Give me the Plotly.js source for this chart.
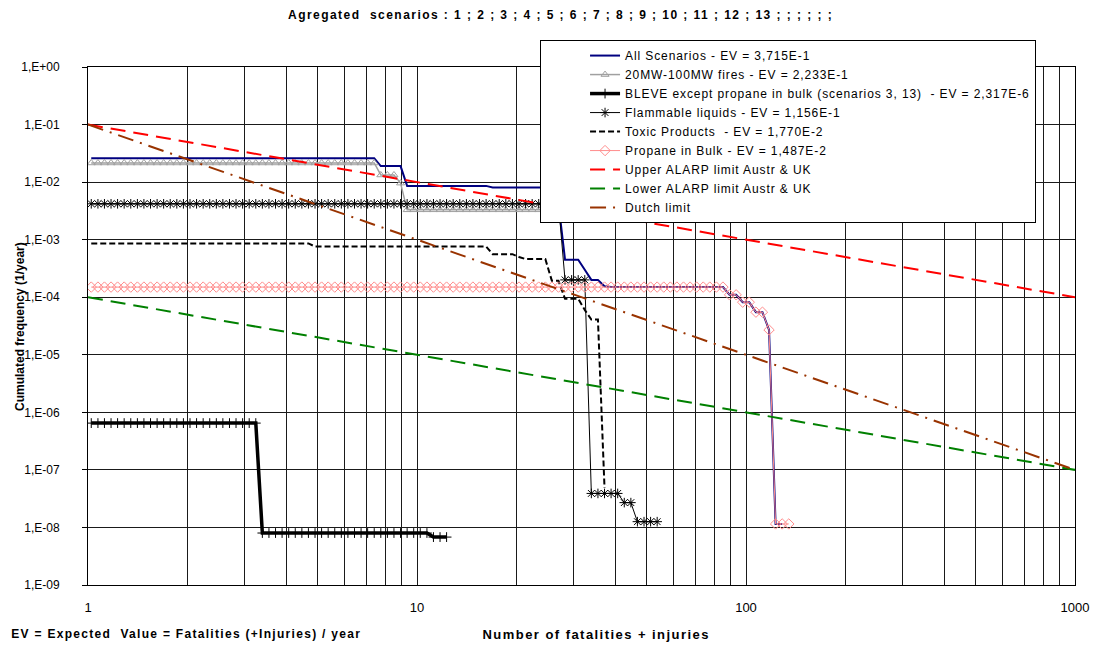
<!DOCTYPE html>
<html>
<head>
<meta charset="utf-8">
<script src="https://cdn.plot.ly/plotly-3.0.1.min.js"></script>
<style>
html,body{margin:0;padding:0;background:#fff}
#chart{width:1097px;height:650px}
.gtitle{letter-spacing:1.45px}
.legendtext{letter-spacing:0.9px}
g.annotation[data-index="1"] .annotation-text{letter-spacing:1.45px}
g.annotation[data-index="2"] .annotation-text{letter-spacing:1.3px}
</style>
</head>
<body>
<div id="chart"></div>
<script>
const xGrid = [1.023,1.072,1.122,1.175,1.230,1.288,1.349,1.413,1.479,1.549,
  1.622,1.698,1.778,1.862,1.950,2.042,2.138,2.239,2.344,2.455,
  2.570,2.692,2.818,2.951,3.090,3.236,3.388,3.548,3.715,3.890,
  4.074,4.266,4.467,4.677,4.898,5.129,5.370,5.623,5.888,6.166,
  6.457,6.761,7.079,7.413,7.762,8.128,8.511,8.913,9.333,9.772,
  10.23,10.72,11.22,11.75,12.30,12.88,13.49,14.13,14.79,15.49,
  16.22,16.98,17.78,18.62,19.50,20.42,21.38,22.39,23.44,24.55,
  25.70,26.92,28.18,29.51,30.90,32.36,33.88,35.48,37.15,38.90,
  40.74,42.66,44.67,46.77,48.98,51.29,53.70,56.23,58.88,61.66,
  64.57,67.61,70.79,74.13,77.62,81.28,85.11,89.13,93.33,97.72,
  102.3,107.2,112.2,117.5,123.0,128.8,134.9];

// Cumulated frequency (1/year) for each series, aligned with xGrid
const allScenarios = [0.026,0.026,0.026,0.026,0.026,0.026,0.026,0.026,0.026,0.026,
  0.026,0.026,0.026,0.026,0.026,0.026,0.026,0.026,0.026,0.026,
  0.026,0.026,0.026,0.026,0.026,0.026,0.026,0.026,0.026,0.026,
  0.026,0.026,0.026,0.026,0.026,0.026,0.026,0.026,0.026,0.026,
  0.026,0.026,0.026,0.026,0.019,0.019,0.019,0.019,0.0086,0.0086,
  0.0086,0.0086,0.0086,0.0086,0.0086,0.0086,0.0086,0.0086,0.0086,0.0086,
  0.0086,0.0081,0.0081,0.0081,0.0081,0.0081,0.0081,0.0081,0.0081,0.0081,
  0.0049,0.0042,4.5e-4,4.5e-4,4.5e-4,3.0e-4,2.0e-4,2.0e-4,1.55e-4,1.5e-4,
  1.5e-4,1.5e-4,1.5e-4,1.5e-4,1.5e-4,1.5e-4,1.5e-4,1.5e-4,1.5e-4,1.5e-4,
  1.5e-4,1.5e-4,1.5e-4,1.5e-4,1.5e-4,1.5e-4,1.5e-4,1.1e-4,1.1e-4,8.2e-5,
  8.2e-5,5.5e-5,5.5e-5,2.7e-5,1.15e-8,1.15e-8];

const fires20to100MW = [0.0215,0.0215,0.0215,0.0215,0.0215,0.0215,0.0215,0.0215,0.0215,0.0215,
  0.0215,0.0215,0.0215,0.0215,0.0215,0.0215,0.0215,0.0215,0.0215,0.0215,
  0.0215,0.0215,0.0215,0.0215,0.0215,0.0215,0.0215,0.0215,0.0215,0.0215,
  0.0215,0.0215,0.0215,0.0215,0.0215,0.0215,0.0215,0.0215,0.0215,0.0215,
  0.0215,0.0215,0.0215,0.0215,0.0133,0.0133,0.0133,0.0096,0.0033,0.0033,
  0.0033,0.0033,0.0033,0.0033,0.0033,0.0033,0.0033,0.0033,0.0033,0.0033,
  0.0033,0.0033,0.0033,0.0033,0.0033,0.0033,0.0033,0.0033,0.0033,0.0033];

const bleve = [6.5e-7,6.5e-7,6.5e-7,6.5e-7,6.5e-7,6.5e-7,6.5e-7,6.5e-7,6.5e-7,6.5e-7,
  6.5e-7,6.5e-7,6.5e-7,6.5e-7,6.5e-7,6.5e-7,6.5e-7,6.5e-7,6.5e-7,6.5e-7,
  6.5e-7,6.5e-7,6.5e-7,6.5e-7,6.5e-7,6.5e-7,8e-9,8e-9,8e-9,8e-9,
  8e-9,8e-9,8e-9,8e-9,8e-9,8e-9,8e-9,8e-9,8e-9,8e-9,
  8e-9,8e-9,8e-9,8e-9,8e-9,8e-9,8e-9,8e-9,8e-9,8e-9,
  8e-9,8e-9,6.8e-9,6.8e-9,6.8e-9];

const flammableLiquids = [4.2e-3,4.2e-3,4.2e-3,4.2e-3,4.2e-3,4.2e-3,4.2e-3,4.2e-3,4.2e-3,4.2e-3,
  4.2e-3,4.2e-3,4.2e-3,4.2e-3,4.2e-3,4.2e-3,4.2e-3,4.2e-3,4.2e-3,4.2e-3,
  4.2e-3,4.2e-3,4.2e-3,4.2e-3,4.2e-3,4.2e-3,4.2e-3,4.2e-3,4.2e-3,4.2e-3,
  4.2e-3,4.2e-3,4.2e-3,4.2e-3,4.2e-3,4.2e-3,4.2e-3,4.2e-3,4.2e-3,4.2e-3,
  4.2e-3,4.2e-3,4.2e-3,4.2e-3,4.2e-3,4.2e-3,4.2e-3,4.2e-3,4.2e-3,4.2e-3,
  4.2e-3,4.2e-3,4.2e-3,4.2e-3,4.2e-3,4.2e-3,4.2e-3,4.2e-3,4.2e-3,4.2e-3,
  4.2e-3,4.2e-3,4.2e-3,4.2e-3,4.2e-3,4.2e-3,4.2e-3,4.2e-3,4.2e-3,4.2e-3,
  4.2e-3,4.2e-3,2e-4,2e-4,2e-4,2e-4,3.9e-8,3.9e-8,3.9e-8,3.9e-8,
  3.9e-8,2.7e-8,2.7e-8,1.26e-8,1.26e-8,1.26e-8,1.26e-8];

const toxicProducts = [8.6e-4,8.6e-4,8.6e-4,8.6e-4,8.6e-4,8.6e-4,8.6e-4,8.6e-4,8.6e-4,8.6e-4,
  8.6e-4,8.6e-4,8.6e-4,8.6e-4,8.6e-4,8.6e-4,8.6e-4,8.6e-4,8.6e-4,8.6e-4,
  8.6e-4,8.6e-4,8.6e-4,8.6e-4,8.6e-4,8.6e-4,8.6e-4,8.6e-4,8.6e-4,8.6e-4,
  8.6e-4,8.6e-4,8.6e-4,8.6e-4,7.6e-4,7.6e-4,7.6e-4,7.6e-4,7.6e-4,7.6e-4,
  7.6e-4,7.6e-4,7.6e-4,7.6e-4,7.6e-4,7.6e-4,7.6e-4,7.6e-4,7.6e-4,7.6e-4,
  7.6e-4,7.6e-4,7.6e-4,7.6e-4,7.6e-4,7.6e-4,7.6e-4,7.6e-4,7.6e-4,7.6e-4,
  7.6e-4,5.6e-4,5.6e-4,5.6e-4,5.6e-4,5.0e-4,4.6e-4,4.6e-4,4.6e-4,4.6e-4,
  1.93e-4,1.93e-4,9.4e-5,9.4e-5,9.4e-5,6.0e-5,4.1e-5,4.1e-5,4.85e-8];

const propaneInBulk = [1.5e-4,1.5e-4,1.5e-4,1.5e-4,1.5e-4,1.5e-4,1.5e-4,1.5e-4,1.5e-4,1.5e-4,
  1.5e-4,1.5e-4,1.5e-4,1.5e-4,1.5e-4,1.5e-4,1.5e-4,1.5e-4,1.5e-4,1.5e-4,
  1.5e-4,1.5e-4,1.5e-4,1.5e-4,1.5e-4,1.5e-4,1.5e-4,1.5e-4,1.5e-4,1.5e-4,
  1.5e-4,1.5e-4,1.5e-4,1.5e-4,1.5e-4,1.5e-4,1.5e-4,1.5e-4,1.5e-4,1.5e-4,
  1.5e-4,1.5e-4,1.5e-4,1.5e-4,1.5e-4,1.5e-4,1.5e-4,1.5e-4,1.5e-4,1.5e-4,
  1.5e-4,1.5e-4,1.5e-4,1.5e-4,1.5e-4,1.5e-4,1.5e-4,1.5e-4,1.5e-4,1.5e-4,
  1.5e-4,1.5e-4,1.5e-4,1.5e-4,1.5e-4,1.5e-4,1.5e-4,1.5e-4,1.5e-4,1.5e-4,
  1.5e-4,1.5e-4,1.5e-4,1.5e-4,1.5e-4,1.5e-4,1.5e-4,1.5e-4,1.5e-4,1.5e-4,
  1.5e-4,1.5e-4,1.5e-4,1.5e-4,1.5e-4,1.5e-4,1.5e-4,1.5e-4,1.5e-4,1.5e-4,
  1.5e-4,1.5e-4,1.5e-4,1.5e-4,1.5e-4,1.5e-4,1.5e-4,1.1e-4,1.1e-4,8.2e-5,
  8.2e-5,5.5e-5,5.5e-5,2.7e-5,1.15e-8,1.15e-8,1.15e-8];

// Risk criteria lines (end points at N = 1 and N = 1000)
const limitN = [1, 1000];
const upperAlarp = [1e-1, 1e-4];
const lowerAlarp = [1e-4, 1e-7];
const dutchLimit = [1e-1, 1e-7];

const seriesNames = [
  'All Scenarios - EV = 3,715E-1',
  '20MW-100MW fires - EV = 2,233E-1',
  'BLEVE except propane in bulk (scenarios 3, 13)  - EV = 2,317E-6',
  'Flammable liquids - EV = 1,156E-1',
  'Toxic Products  - EV = 1,770E-2',
  'Propane in Bulk - EV = 1,487E-2',
  'Upper ALARP limit Austr & UK',
  'Lower ALARP limit Austr & UK',
  'Dutch limit'
];

const yTickVals = [1e-9,1e-8,1e-7,1e-6,1e-5,1e-4,1e-3,1e-2,1e-1,1];
const yTickText = ['1,E-09','1,E-08','1,E-07','1,E-06','1,E-05','1,E-04','1,E-03','1,E-02','1,E-01','1,E+00'];
const xGridVals = [1,2,3,4,5,6,7,8,9,10,20,30,40,50,60,70,80,90,100,200,300,400,500,600,700,800,900,1000];
const xTickText = ['1','','','','','','','','','10','','','','','','','','','100','','','','','','','','','1000'];

const FONT = 'Liberation Sans, Arial, sans-serif';
const sl = a => xGrid.slice(0, a.length);

const traces = [
  {x: sl(allScenarios), y: allScenarios, name: seriesNames[0], mode: 'lines',
   line: {color: '#000080', width: 2}},
  {x: sl(fires20to100MW), y: fires20to100MW, name: seriesNames[1], mode: 'lines+markers',
   line: {color: '#a0a0a0', width: 1.5},
   marker: {symbol: 'triangle-up-open', size: 7, color: '#a0a0a0', line: {width: 1}}},
  {x: sl(bleve), y: bleve, name: seriesNames[2], mode: 'lines+markers',
   line: {color: '#000000', width: 3.5},
   marker: {symbol: 'cross-thin-open', size: 7, color: '#000000', line: {width: 1}}},
  {x: sl(flammableLiquids), y: flammableLiquids, name: seriesNames[3], mode: 'lines+markers',
   line: {color: '#000000', width: 1},
   marker: {symbol: 'asterisk-open', size: 8, color: '#000000', line: {width: 1}}},
  {x: sl(toxicProducts), y: toxicProducts, name: seriesNames[4], mode: 'lines',
   line: {color: '#000000', width: 2, dash: '6px,3px'}},
  {x: sl(propaneInBulk), y: propaneInBulk, name: seriesNames[5], mode: 'lines+markers',
   line: {color: '#ff8c8c', width: 1},
   marker: {symbol: 'diamond-open', size: 8, color: '#ff8c8c', line: {width: 1}}},
  {x: limitN, y: upperAlarp, name: seriesNames[6], mode: 'lines',
   line: {color: '#ff0000', width: 2, dash: '15px,8px'}},
  {x: limitN, y: lowerAlarp, name: seriesNames[7], mode: 'lines',
   line: {color: '#008000', width: 2, dash: '15px,8px'}},
  {x: limitN, y: dutchLimit, name: seriesNames[8], mode: 'lines',
   line: {color: '#993300', width: 2, dash: '16px,7px,2px,7px'}}
];

const layout = {
  width: 1097, height: 650,
  margin: {l: 88, r: 22, t: 67, b: 65},
  paper_bgcolor: '#ffffff', plot_bgcolor: '#ffffff',
  font: {family: FONT, color: '#000000', size: 12},
  title: {text: 'Agregated  scenarios : 1 ; 2 ; 3 ; 4 ; 5 ; 6 ; 7 ; 8 ; 9 ; 10 ; 11 ; 12 ; 13 ; ; ; ; ; ;',
          font: {family: FONT, size: 12, weight: 'bold', color: '#000'},
          x: 0.511, xanchor: 'center', y: 0.978, yanchor: 'middle'},
  showlegend: true,
  legend: {x: 0.458, xanchor: 'left', y: 1.052, yanchor: 'top',
           bgcolor: '#ffffff', bordercolor: '#000000', borderwidth: 1,
           font: {family: FONT, size: 12, color: '#000'}, indentation: 44,
           traceorder: 'normal'},
  xaxis: {type: 'log', range: [0, 3], tickmode: 'array', tickvals: xGridVals, ticktext: xTickText,
          showgrid: true, gridcolor: '#1a1a1a', gridwidth: 1, zeroline: false,
          showline: true, linecolor: '#000', linewidth: 1, mirror: true, ticks: '',
          ticklabelstandoff: 10, tickfont: {family: FONT, size: 13}},
  yaxis: {type: 'log', range: [-9, 0], tickmode: 'array', tickvals: yTickVals, ticktext: yTickText,
          showgrid: true, gridcolor: '#1a1a1a', gridwidth: 1, zeroline: false,
          showline: true, linecolor: '#000', linewidth: 1, mirror: true,
          ticks: 'outside', ticklen: 5, tickcolor: '#000', ticklabelstandoff: 20,
          tickfont: {family: FONT, size: 12}},
  annotations: [
    {text: '<b>Cumulated frequency (1/year)</b>', xref: 'paper', yref: 'paper',
     x: -0.0689, y: 0.5, xanchor: 'center', yanchor: 'middle', textangle: -90,
     showarrow: false, font: {family: FONT, size: 12}},
    {text: '<b>Number of fatalities + injuries</b>', xref: 'paper', yref: 'paper',
     x: 0.515, y: -0.0946, xanchor: 'center', yanchor: 'middle',
     showarrow: false, font: {family: FONT, size: 13}},
    {text: '<b>EV = Expected  Value = Fatalities (+Injuries) / year</b>', xref: 'paper', yref: 'paper',
     x: 0.1003, y: -0.0946, xanchor: 'center', yanchor: 'middle',
     showarrow: false, font: {family: FONT, size: 12}}
  ]
};

Plotly.newPlot('chart', traces, layout, {displayModeBar: false, staticPlot: true});
</script>
</body>
</html>
